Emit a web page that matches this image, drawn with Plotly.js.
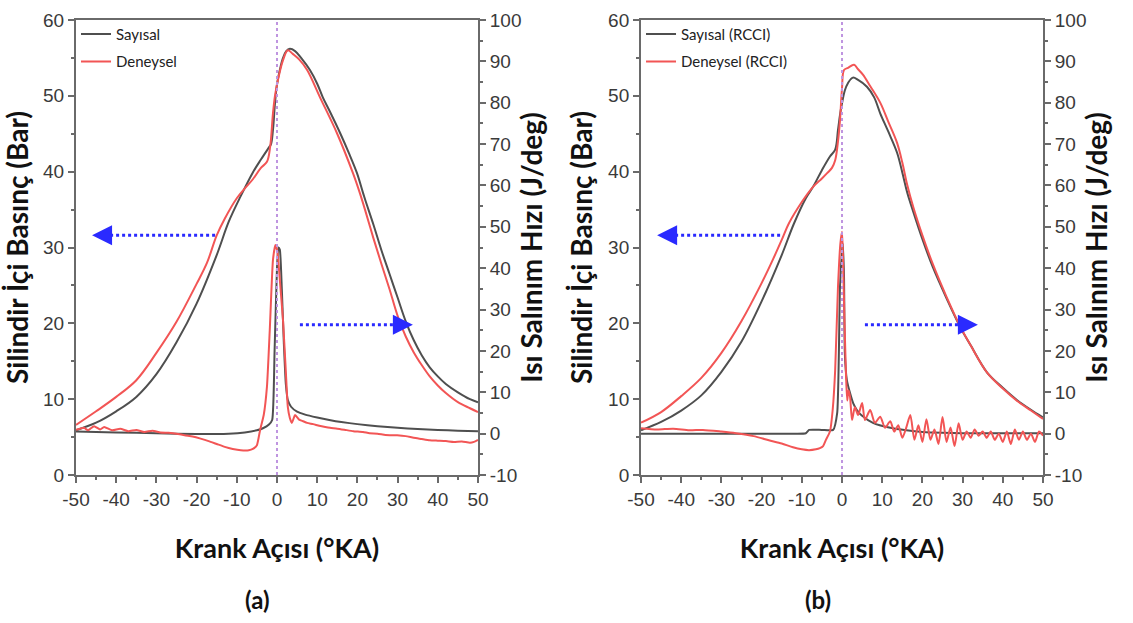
<!DOCTYPE html>
<html>
<head>
<meta charset="utf-8">
<script src="https://cdn.plot.ly/plotly-3.0.1.min.js"></script>
<style>html,body{margin:0;padding:0;background:#fff;}#chart{width:1133px;height:623px;}</style>
</head>
<body>
<div id="chart"></div>
<script>
// ---------- Panel (a) : cylinder pressure (bar) ----------
const aSimPresX = [-50,-45,-40,-35,-30,-25,-20,-15,-12,-9,-6,-4,-2,-1.5,-1,-0.5,0,0.7,1.5,2.3,3.2,4.5,6,8.2,10,11.4,13,15.7,18,19.9,21.4,22,24,26,28,30,32,34,36,38,40,42,45,48,50];
const aSimPres  = [5.9,6.9,8.4,10.3,13.3,17.5,22.6,29.0,33.4,36.8,39.9,41.6,43.2,43.6,45.5,49.0,51.5,53.4,55.0,55.9,56.2,55.9,55.0,53.4,51.6,49.8,48.1,45.1,42.3,39.8,37.2,36.2,33.0,29.6,26.5,23.4,20.3,17.8,15.8,14.2,13.0,12.0,10.9,10.0,9.6];
const aExpPresX = [-50,-45,-40,-35,-30,-25,-20,-17.4,-15,-13,-10,-8,-6,-4,-2.5,-1.7,-1,-0.5,0.2,1.5,2.7,4,5.5,7.5,10.7,14.9,18.9,20.6,22,24,26,28,30,32,34,36,38,40,42,45,48,50];
const aExpPres  = [6.6,8.4,10.3,12.5,16.1,20.2,25.2,28.0,31.6,33.8,36.5,37.8,39.0,40.5,41.3,43.3,47.7,50.0,52.0,54.7,56.0,55.5,54.8,53.4,49.8,45.1,39.8,37.2,34.8,31.2,27.8,24.5,21.0,18.3,16.2,14.5,13.0,11.8,10.8,9.6,8.8,8.3];
// ---------- Panel (a) : heat release rate (J/deg) ----------
const aSimHrrX = [-50,-40,-30,-20,-12,-8,-5,-3.5,-2,-1.2,-0.6,0,0.35,0.7,1.2,1.7,2.2,2.7,3.5,5,7,10,13,16,20,25,30,35,40,45,50];
const aSimHrr  = [0.5,0.3,0.1,-0.1,0.0,0.3,0.8,1.3,2.2,3.3,20,40,45.0,44.5,35,22,12,8.1,6.5,5.3,4.6,3.9,3.3,2.8,2.3,1.8,1.4,1.1,0.9,0.7,0.6];
const aExpHrrX = [-50,-48,-47,-45.5,-44,-43,-41,-39,-37,-35,-33,-31,-29,-27,-25,-23,-21,-19,-17,-15,-13,-11,-9,-7,-6,-5,-4.2,-3.3,-2.5,-1.8,-1,-0.4,0.1,0.8,1.5,2.2,2.7,3.2,3.7,4.5,5.5,6.5,7.5,9,10.5,12,13.2,15,17,19,21.4,23,25,27,29.9,32,34,36,38,40,42,44,46,48,49,50];
const aExpHrr  = [0.9,1.4,0.8,1.8,1.0,1.6,0.8,1.2,0.6,0.9,0.4,0.7,0.3,0.2,0.0,-0.4,-0.7,-1.2,-1.8,-2.5,-3.2,-3.7,-4.0,-4.0,-3.7,-2.8,0.9,4.5,11.3,25,42,45.6,44,36,27.4,15,6.4,3.8,2.6,4.5,3.4,3.0,2.6,2.3,1.9,1.6,1.4,1.2,0.9,0.6,0.4,0.1,0.0,-0.3,-0.4,-0.6,-1.0,-1.3,-1.6,-1.7,-1.8,-2.0,-1.9,-2.2,-2.0,-1.5];

// ---------- Panel (b) : cylinder pressure (bar) ----------
const bSimPresX = [-50,-45,-40,-35,-30,-25,-20,-15,-12,-9,-7.2,-5,-3,-1.7,-1,-0.5,0,0.7,1.5,2.7,4,6.2,8,9.5,11.5,13.7,15,16.2,17.8,20,22.6,26,29.4,32,36.1,40,43.5,47,50];
const bSimPres  = [5.9,7.0,8.5,10.5,13.6,17.6,22.9,29.0,33.1,36.5,38.0,40.2,42.0,42.9,45.5,47.5,49.0,50.7,51.7,52.4,52.1,51.2,49.8,47.7,45.3,42.5,39.9,37.3,34.6,31.1,27.4,23.3,19.5,17.1,13.5,11.5,9.9,8.6,7.6];
const bExpPresX = [-50,-45,-40,-35,-30,-25,-20,-17.2,-15,-13.2,-10,-7.2,-5,-3.7,-2.5,-1.7,-1,-0.5,0,0.5,1.5,3,4,5.2,7,9.5,11.5,13.7,15,16.2,17.8,20,22.6,26,29.4,32,36.1,40,43.5,47,50];
const bExpPres  = [6.9,8.3,10.4,12.8,16.1,20.3,25.3,28.4,31.0,33.2,36.0,38.0,39.1,39.8,40.5,41.5,44.0,46.8,51.0,53.4,53.7,54.1,53.5,52.8,51.3,49.1,46.6,43.8,41.2,38.3,35.2,31.6,27.8,23.5,19.6,17.1,13.5,11.4,9.8,8.5,7.4];
// ---------- Panel (b) : heat release rate (J/deg) ----------
const bSimHrrX = [-50,-30,-12,-9,-8.2,-5,-2.2,-1.2,-0.5,0,0.2,0.5,0.7,1.2,2,2.8,3.7,5,7.7,12,16,20.1,25,30,36.8,43,50];
const bSimHrr  = [0.0,0.0,0.0,0.1,0.9,0.9,0.9,5,35.5,44,46,38,19.5,13,9.8,7.3,5.7,4.3,2.6,1.4,0.8,0.4,0.2,0.1,0.1,0.1,0.1];
const bExpHrrX = [-50,-46,-42,-38,-34.6,-30,-26.4,-22,-18.2,-15,-12.2,-10,-8.2,-6.5,-5.5,-4.7,-4,-3,-2.3,-1.7,-1,-0.4,0,0.3,0.6,1.0,1.3,1.6,2,2.5,3.2,4,5,5.7,7,8.2,9.5,10.7,12,13,14,15,16,17,18,19,20,21,22,23,24,25,26,27,28,29,30,31,32,33,34,35,36,37,38,39,40,41,42,43,44,45,46,47,48,49,50];
const bExpHrr  = [1.3,1.0,1.2,0.8,0.9,0.5,0.1,-0.6,-1.6,-2.4,-3.3,-3.8,-4.0,-3.8,-3.5,-3.0,-1.5,0.5,6,15.4,35.5,46,48.8,40,28,14,8,10.5,8.9,3.3,6.4,4.5,7.4,3.3,5.7,2.6,4.1,1.4,3.0,0.5,2.0,-1.0,1.5,4.5,-1.5,2.0,-2.0,3.5,-1.5,1.0,-2.5,4.0,-2.0,1.5,-3.0,2.5,-1.5,0.5,-1.0,1.0,-0.5,0.5,-1.0,0.5,-1.5,0.0,-2.0,0.5,-2.5,1.0,-1.5,0.5,-1.5,0.0,-2.0,0.5,-0.5];

const legendA = ['Sayısal','Deneysel'];
const legendB = ['Sayısal (RCCI)','Deneysel (RCCI)'];
const xTicks = [-50,-40,-30,-20,-10,0,10,20,30,40,50];
const xTickText = ['-50','-40','-30','-20','-10','0','10','20','30','40','50'];
const yLeftTicks = [0,10,20,30,40,50,60];
const yRightTicks = [-10,0,10,20,30,40,50,60,70,80,90,100];
const yRightText = ['-10','0','10','20','30','40','50','60','70','80','90','100'];

// ---------- styling ----------
const GRAY = '#4f4f4f', RED = '#f25555';
const AXC = '#6a6a6a';
const tickFont = {family:'Liberation Sans, Arial, sans-serif', size:19, color:'#3a3a3a'};
const xTitleFont = {family:'Lato, Open Sans, sans-serif', size:27, color:'#111', weight:'bold'};
const yTitleFont = {family:'Lato, Open Sans, sans-serif', size:28, color:'#111', weight:'bold'};

function line(x,y,color,name,xa,ya,leg,show,sm){
  return {x:x,y:y,type:'scatter',mode:'lines',name:name,xaxis:xa,yaxis:ya,
    line:{color:color,width:2,shape:'spline',smoothing:sm},showlegend:show,legend:leg,legendgroup:leg+name,hoverinfo:'skip'};
}
const data = [
  line(aSimPresX,aSimPres,GRAY,legendA[0],'x','y','legend',true,1),
  line(aExpPresX,aExpPres,RED,legendA[1],'x','y','legend',true,1),
  line(aSimHrrX,aSimHrr,GRAY,legendA[0],'x','y2','legend',false,0.5),
  line(aExpHrrX,aExpHrr,RED,legendA[1],'x','y2','legend',false,0.5),
  line(bSimPresX,bSimPres,GRAY,legendB[0],'x2','y3','legend2',true,1),
  line(bExpPresX,bExpPres,RED,legendB[1],'x2','y3','legend2',true,1),
  line(bSimHrrX,bSimHrr,GRAY,legendB[0],'x2','y4','legend2',false,0.5),
  line(bExpHrrX,bExpHrr,RED,legendB[1],'x2','y4','legend2',false,0.7)
];

function xAxis(dom, anchor){
  return {domain:dom, anchor:anchor, range:[-50,50], tickvals:xTicks, ticktext:xTickText, ticks:'outside', ticklen:6, tickwidth:2, tickcolor:AXC,
    minor:{dtick:5, ticks:'outside', ticklen:3, tickwidth:2, tickcolor:AXC},
    showline:true, linecolor:AXC, linewidth:2, mirror:true, showgrid:false, zeroline:false, tickfont:tickFont,
    title:{text:'Krank Açısı (°KA)', font:xTitleFont, standoff:30}, fixedrange:true};
}
function yLeft(anchor){
  return {domain:[0,1], anchor:anchor, range:[0,60], tickvals:yLeftTicks, ticks:'outside', ticklen:6, tickwidth:2, tickcolor:AXC,
    minor:{dtick:5, ticks:'outside', ticklen:3, tickwidth:2, tickcolor:AXC},
    showline:true, linecolor:AXC, linewidth:2, showgrid:false, zeroline:false, tickfont:tickFont,
    title:{text:'Silindir İçi Basınç (Bar)', font:yTitleFont, standoff:7}, fixedrange:true};
}
function yRight(over, anchor){
  return {overlaying:over, side:'right', anchor:anchor, range:[-10,100], tickvals:yRightTicks, ticktext:yRightText, ticks:'outside', ticklen:6, tickwidth:2, tickcolor:AXC,
    minor:{dtick:5, ticks:'outside', ticklen:3, tickwidth:2, tickcolor:AXC},
    showline:true, linecolor:AXC, linewidth:2, showgrid:false, zeroline:false, tickfont:tickFont,
    title:{text:'Isı Salınım Hızı (J/deg)', font:yTitleFont, standoff:2}, fixedrange:true};
}

const BLUE = '#2a2aff';
function dotted(xref,yref,x0,x1,y){
  return {type:'line', xref:xref, yref:yref, x0:x0, x1:x1, y0:y, y1:y, line:{color:BLUE, width:3, dash:'dot'}};
}
function vline(xref,yref){
  return {type:'line', xref:xref, yref:yref+' domain', x0:0, x1:0, y0:0, y1:1, line:{color:'#bf95e0', width:2, dash:'dot'}};
}
function head(xref,yref,x,y,dir){
  return {xref:xref, yref:yref, x:x, y:y, text:'', showarrow:true, ax:dir*14, ay:0,
    arrowhead:2, arrowsize:1, arrowwidth:4, arrowcolor:BLUE};
}
const lblFont = {family:'Lato, Open Sans, sans-serif', size:24, color:'#111'};

const layout = {
  width:1133, height:623, margin:{l:76, r:90, t:20, b:148},
  paper_bgcolor:'#fff', plot_bgcolor:'#fff',
  xaxis:xAxis([0,0.4157],'y'),
  xaxis2:xAxis([0.5843,1],'y3'),
  yaxis:yLeft('x'),
  yaxis2:yRight('y','x'),
  yaxis3:yLeft('x2'),
  yaxis4:yRight('y3','x2'),
  legend:{x:0, y:1.005, xanchor:'left', yanchor:'top', bgcolor:'rgba(0,0,0,0)', tracegroupgap:5,
    font:{family:'Lato, Open Sans, sans-serif', size:15, color:'#222'}},
  legend2:{x:0.5843, y:1.005, xanchor:'left', yanchor:'top', bgcolor:'rgba(0,0,0,0)', tracegroupgap:5,
    font:{family:'Lato, Open Sans, sans-serif', size:15, color:'#222'}},
  shapes:[
    vline('x','y'), vline('x2','y3'),
    dotted('x','y',-44.5,-15.4,31.6), dotted('x','y',5.7,32,19.8),
    dotted('x2','y3',-44.5,-15.4,31.6), dotted('x2','y3',5.7,32,19.8)
  ],
  annotations:[
    head('x','y',-46,31.6,1), head('x','y',33.8,19.8,-1),
    head('x2','y3',-46,31.6,1), head('x2','y3',33.8,19.8,-1),
    {xref:'paper', yref:'paper', x:0.1727, y:-0.2747, yanchor:'middle', text:'<b>(a)</b>', showarrow:false, font:lblFont},
    {xref:'paper', yref:'paper', x:0.7828, y:-0.2747, yanchor:'middle', text:'<b>(b)</b>', showarrow:false, font:lblFont}
  ]
};

Plotly.newPlot('chart', data, layout, {displayModeBar:false, staticPlot:true});
</script>
</body>
</html>
